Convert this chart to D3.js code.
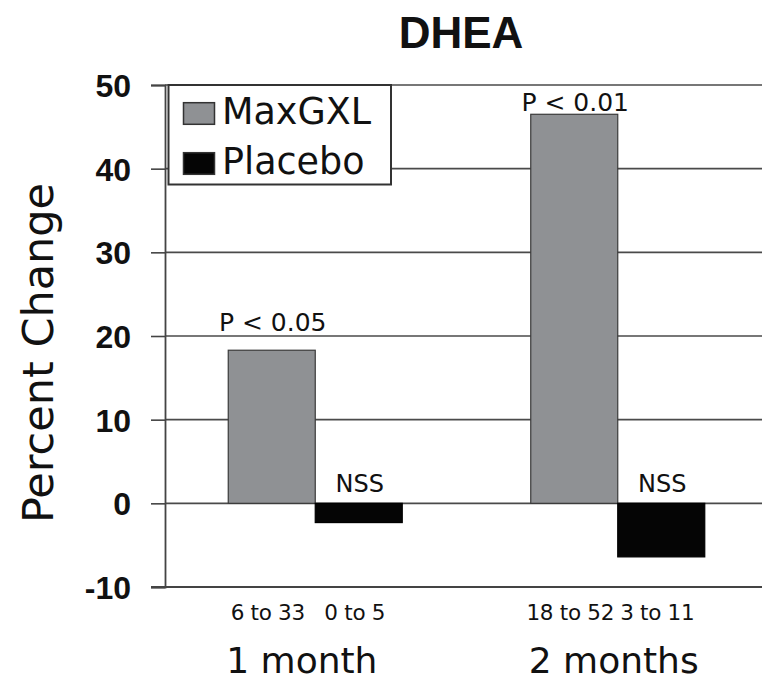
<!DOCTYPE html>
<html>
<head>
<meta charset="utf-8">
<script src="https://cdn.jsdelivr.net/npm/d3@7"></script>
<style>
  html, body { margin: 0; padding: 0; background: #fff; }
  svg { display: block; }
  text { font-family: "DejaVu Sans", "Liberation Sans", Arial, sans-serif; fill: #111; }
</style>
</head>
<body>
<svg id="chart" width="762" height="682"></svg>
<script>
// ---- data ----
const groups = ["1 month", "2 months"];
const series = ["MaxGXL", "Placebo"];
const maxgxlValues = [18.3, 46.5];
const placeboValues = [-2.3, -6.4];
const maxgxlRanges = ["6 to 33", "18 to 52"];
const placeboRanges = ["0 to 5", "3 to 11"];
const maxgxlNotes = ["P < 0.05", "P < 0.01"];
const placeboNotes = ["NSS", "NSS"];
const yTicks = [-10, 0, 10, 20, 30, 40, 50];
const title = "DHEA";
const yLabel = "Percent Change";

const colors = { MaxGXL: "#8f9194", Placebo: "#050505" };

const rows = [];
groups.forEach((g, i) => {
  rows.push({ group: g, series: "MaxGXL", value: maxgxlValues[i], range: maxgxlRanges[i], note: maxgxlNotes[i], gi: i });
  rows.push({ group: g, series: "Placebo", value: placeboValues[i], range: placeboRanges[i], note: placeboNotes[i], gi: i });
});

const svg = d3.select("#chart");
const plotLeft = 165, plotRight = 762;

const x = d3.scaleBand().domain(groups).range([164, 769]).paddingInner(0).paddingOuter(0);
const xs = d3.scaleBand().domain(series).range([0, x.bandwidth()]).paddingInner(0).paddingOuter(0.7385);
const y = d3.scaleLinear().domain([-10, 50]).range([587, 85]);

// gridlines
svg.append("g").selectAll("line").data(yTicks.filter(t => t > -10)).join("line")
  .attr("x1", plotLeft).attr("x2", plotRight)
  .attr("y1", d => y(d)).attr("y2", d => y(d))
  .attr("stroke", "#4a4a4a").attr("stroke-width", 1.6);

// y axis
const yAxis = d3.axisLeft(y).tickValues(yTicks).tickSize(14).tickPadding(20)
  .tickFormat(d => String(d));
const ya = svg.append("g").attr("transform", `translate(${plotLeft},0)`).call(yAxis);
ya.select(".domain").attr("stroke", "#444").attr("stroke-width", 1.8);
ya.selectAll(".tick line").attr("stroke", "#444").attr("stroke-width", 1.6);
ya.selectAll(".tick text")
  .style("font-family", "'Liberation Sans', Arial, sans-serif")
  .style("font-weight", "bold").style("font-size", "32px").attr("fill", "#111")
  .attr("dy", "0.36em");

// bottom axis line
svg.append("line").attr("x1", plotLeft - 14).attr("x2", plotRight)
  .attr("y1", y(-10)).attr("y2", y(-10))
  .attr("stroke", "#444").attr("stroke-width", 2);

// bars
svg.append("g").selectAll("rect").data(rows).join("rect")
  .attr("x", d => x(d.group) + xs(d.series))
  .attr("width", xs.bandwidth())
  .attr("y", d => y(Math.max(0, d.value)))
  .attr("height", d => Math.abs(y(d.value) - y(0)))
  .attr("fill", d => colors[d.series])
  .attr("stroke", d => d.series === "MaxGXL" ? "#3a3a3a" : "#000")
  .attr("stroke-width", 1.2);

// notes above bars
const noteGap = { MaxGXL: [19, 3.5], Placebo: [11.5, 11.5] };
svg.append("g").selectAll("text").data(rows).join("text")
  .attr("x", d => x(d.group) + xs(d.series) + xs.bandwidth() / 2 + 1)
  .attr("y", d => y(Math.max(0, d.value)) - noteGap[d.series][d.gi])
  .attr("text-anchor", "middle")
  .style("font-size", d => d.series === "MaxGXL" ? "25px" : "24px")
  .text(d => d.note);

// range labels under axis
svg.append("g").selectAll("text").data(rows).join("text")
  .attr("x", d => x(d.group) + xs(d.series) + xs.bandwidth() / 2 - 4)
  .attr("y", 620)
  .attr("text-anchor", "middle")
  .style("font-size", "21.5px")
  .style("letter-spacing", "-0.3px")
  .text(d => d.range);

// group labels
svg.append("g").selectAll("text").data(groups).join("text")
  .attr("x", d => x(d) + xs("MaxGXL") - 2)
  .attr("y", 673)
  .attr("text-anchor", "start")
  .style("font-size", "36px")
  .text(d => d);

// title
svg.append("text").attr("x", 461).attr("y", 48).attr("text-anchor", "middle")
  .style("font-family", "'Liberation Sans', Arial, sans-serif")
  .style("font-size", "44px").style("font-weight", "bold").text(title);

// y label
svg.append("text")
  .attr("transform", `translate(53,353) rotate(-90)`)
  .attr("text-anchor", "middle")
  .style("font-size", "43px")
  .text(yLabel);

// legend
const lg = svg.append("g");
lg.append("rect").attr("x", 168.5).attr("y", 85).attr("width", 222.5).attr("height", 99.5)
  .attr("fill", "#fff").attr("stroke", "#333").attr("stroke-width", 2);
const items = lg.selectAll("g.item").data(series).join("g").attr("class", "item")
  .attr("transform", (d, i) => `translate(0,${i * 50})`);
items.append("rect").attr("x", 183.5).attr("y", 102.7).attr("width", 31).attr("height", 21.6)
  .attr("fill", d => colors[d]).attr("stroke", "#333").attr("stroke-width", 1.5);
items.append("text").attr("x", 222).attr("y", 124.3)
  .style("font-size", "36.5px").text(d => d);
</script>
</body>
</html>
